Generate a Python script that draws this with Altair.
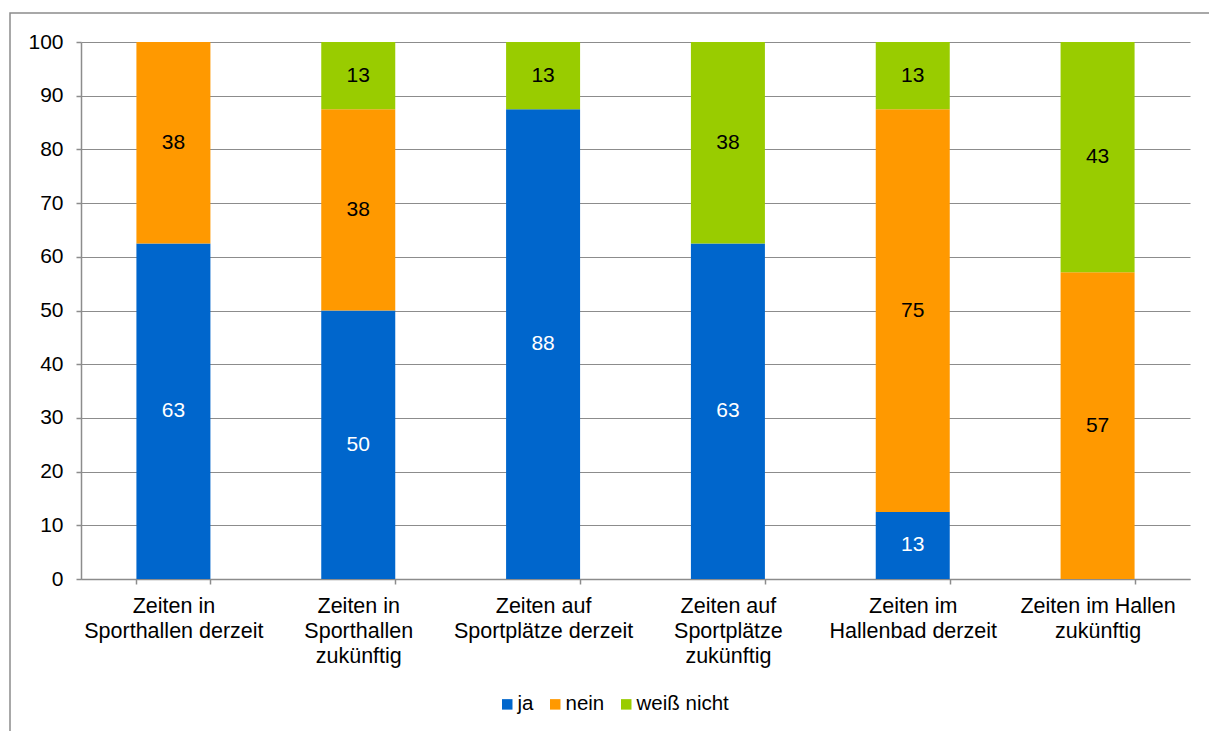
import altair as alt
import pandas as pd

# Survey answers per question (percent of respondents)
categories = [
    "Zeiten in\nSporthallen derzeit",
    "Zeiten in\nSporthallen\nzukünftig",
    "Zeiten auf\nSportplätze derzeit",
    "Zeiten auf\nSportplätze\nzukünftig",
    "Zeiten im\nHallenbad derzeit",
    "Zeiten im Hallen\nzukünftig",
]
answers = ["ja", "nein", "weiß nicht"]
ja = [62.5, 50.0, 87.5, 62.5, 12.5, 0.0]
nein = [37.5, 37.5, 0.0, 0.0, 75.0, 57.14]
weiss_nicht = [0.0, 12.5, 12.5, 37.5, 12.5, 42.86]
colors = ["#0066CC", "#FF9900", "#99CC00"]
y_ticks = list(range(0, 101, 10))

rows = []
for i, cat in enumerate(categories):
    for k, (ans, series) in enumerate(zip(answers, [ja, nein, weiss_nicht])):
        rows.append({"cat": cat, "answer": ans, "order": k, "value": series[i]})
df = pd.DataFrame(rows)

W, H = 1109, 537
GRAY = "#8c8c8c"
FONT = "Liberation Sans"
FS = 21

base = (
    alt.Chart(df)
    .transform_stack(stack="value", groupby=["cat"], sort=[alt.SortField("order")], as_=["y0", "y1"])
    .transform_calculate(mid="(datum.y0 + datum.y1) / 2")
)

x_enc = alt.X(
    "cat:N",
    sort=categories,
    scale=alt.Scale(paddingInner=0.6, paddingOuter=0.3),
    axis=alt.Axis(
        title=None,
        labelAngle=0,
        labelFontSize=21.5,
        labelColor="black",
        labelPadding=11,
        labelLineHeight=25,
        labelExpr="split(datum.label, '\\n')",
        tickBand="extent",
        tickSize=5,
        tickColor=GRAY,
        tickWidth=1.5,
        domainColor=GRAY,
        domainWidth=1.5,
        grid=False,
    ),
)

bars = base.mark_bar(size=74).encode(
    x=x_enc,
    y=alt.Y(
        "y0:Q",
        scale=alt.Scale(domain=[0, 100], nice=False),
        axis=alt.Axis(
            title=None,
            values=y_ticks,
            labelFontSize=FS,
            labelColor="black",
            labelPadding=13,
            tickSize=5,
            tickColor=GRAY,
            tickWidth=1.5,
            domainColor=GRAY,
            domainWidth=1.5,
            grid=True,
            gridColor=GRAY,
            gridWidth=1.2,
        ),
    ),
    y2="y1:Q",
    color=alt.Color(
        "answer:N",
        scale=alt.Scale(domain=answers, range=colors),
        legend=alt.Legend(
            title=None,
            orient="none",
            legendX=416,
            legendY=652,
            direction="horizontal",
            symbolType="square",
            symbolSize=110,
            symbolStrokeWidth=0,
            symbolOpacity=1,
            labelFontSize=20.5,
            labelColor="black",
            labelOffset=0,
            columnPadding=11,
            padding=0,
        ),
    ),
)

labels = (
    base.transform_filter("datum.value > 0")
    .mark_text(fontSize=FS, baseline="middle", align="center")
    .encode(
        x=alt.X("cat:N", sort=categories),
        y=alt.Y("mid:Q"),
        text=alt.Text("value:Q", format=".0f"),
        color=alt.condition(alt.datum.answer == "ja", alt.value("white"), alt.value("black")),
    )
)

frame = (
    alt.Chart(pd.DataFrame({"f": [0]}))
    .mark_rect(filled=False, stroke=GRAY, strokeWidth=1.5)
    .encode(x=alt.value(-71), x2=alt.value(1250), y=alt.value(-29), y2=alt.value(760))
)

chart = (
    alt.layer(frame, bars, labels)
    .properties(
        width=W,
        height=H,
        autosize=alt.AutoSizeParams(type="none"),
        padding={"left": 81, "top": 42, "right": 19, "bottom": 152},
    )
    .configure(font=FONT)
    .configure_view(strokeOpacity=0)
)

chart.save("out.html", embed_options={"renderer": "svg", "actions": False})
